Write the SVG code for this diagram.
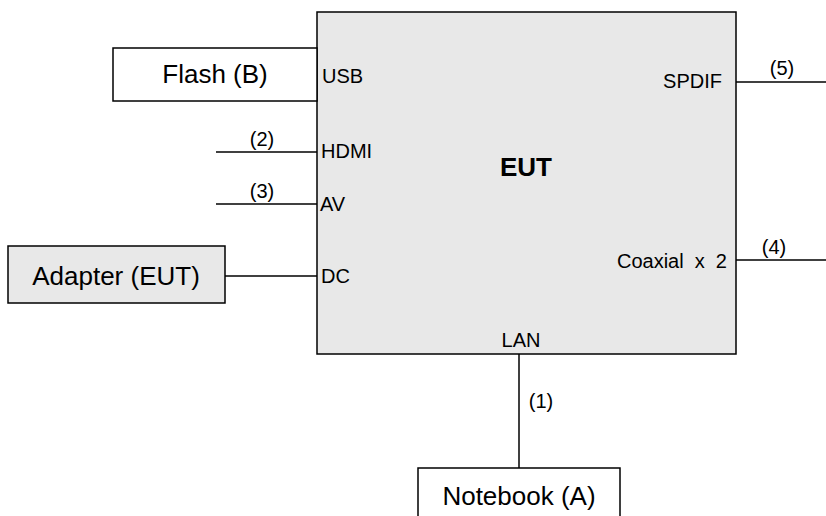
<svg xmlns="http://www.w3.org/2000/svg" width="826" height="516" viewBox="0 0 826 516">
<style>
.box{stroke:#000;stroke-width:1.5}
.grey{fill:#e8e8e8}
.white{fill:#fff}
.ln{stroke:#000;stroke-width:1.5;fill:none}
text{font-family:"Liberation Sans",Arial,sans-serif;fill:#000}
.big{font-size:26px}
.sm{font-size:20px}
</style>
<rect width="826" height="516" fill="#fff"/>
<g id="connectors">
<line class="ln" x1="216" y1="152" x2="317" y2="152"/>
<line class="ln" x1="216" y1="204" x2="317" y2="204"/>
<line class="ln" x1="225" y1="276" x2="317" y2="276"/>
<line class="ln" x1="736" y1="82" x2="826" y2="82"/>
<line class="ln" x1="736" y1="260" x2="826" y2="260"/>
<line class="ln" x1="519" y1="354" x2="519" y2="468"/>
<text class="sm" x="262" y="146" text-anchor="middle">(2)</text>
<text class="sm" x="262" y="198" text-anchor="middle">(3)</text>
<text class="sm" x="782" y="75" text-anchor="middle">(5)</text>
<text class="sm" x="774" y="254" text-anchor="middle">(4)</text>
<text class="sm" x="541" y="408" text-anchor="middle">(1)</text>
</g>
<g id="eut">
<rect class="box grey" x="317" y="12" width="419" height="342"/>
<text x="526" y="176" text-anchor="middle" font-size="26" font-weight="bold">EUT</text>
<text class="sm" x="322" y="83">USB</text>
<text class="sm" x="321" y="158">HDMI</text>
<text class="sm" x="320" y="211">AV</text>
<text class="sm" x="321" y="283">DC</text>
<text class="sm" x="722" y="88" text-anchor="end">SPDIF</text>
<text class="sm" x="727" y="268" text-anchor="end" xml:space="preserve">Coaxial  x  2</text>
<text class="sm" x="521" y="347" text-anchor="middle">LAN</text>
</g>
<g id="flash">
<rect class="box white" x="113" y="48" width="204" height="53"/>
<text class="big" x="215" y="83" text-anchor="middle">Flash (B)</text>
</g>
<g id="adapter">
<rect class="box grey" x="8" y="246" width="217" height="57"/>
<text class="big" x="116" y="285" text-anchor="middle">Adapter (EUT)</text>
</g>
<g id="notebook">
<rect class="box white" x="418" y="468" width="202" height="60"/>
<text class="big" x="519" y="505" text-anchor="middle">Notebook (A)</text>
</g>
</svg>
